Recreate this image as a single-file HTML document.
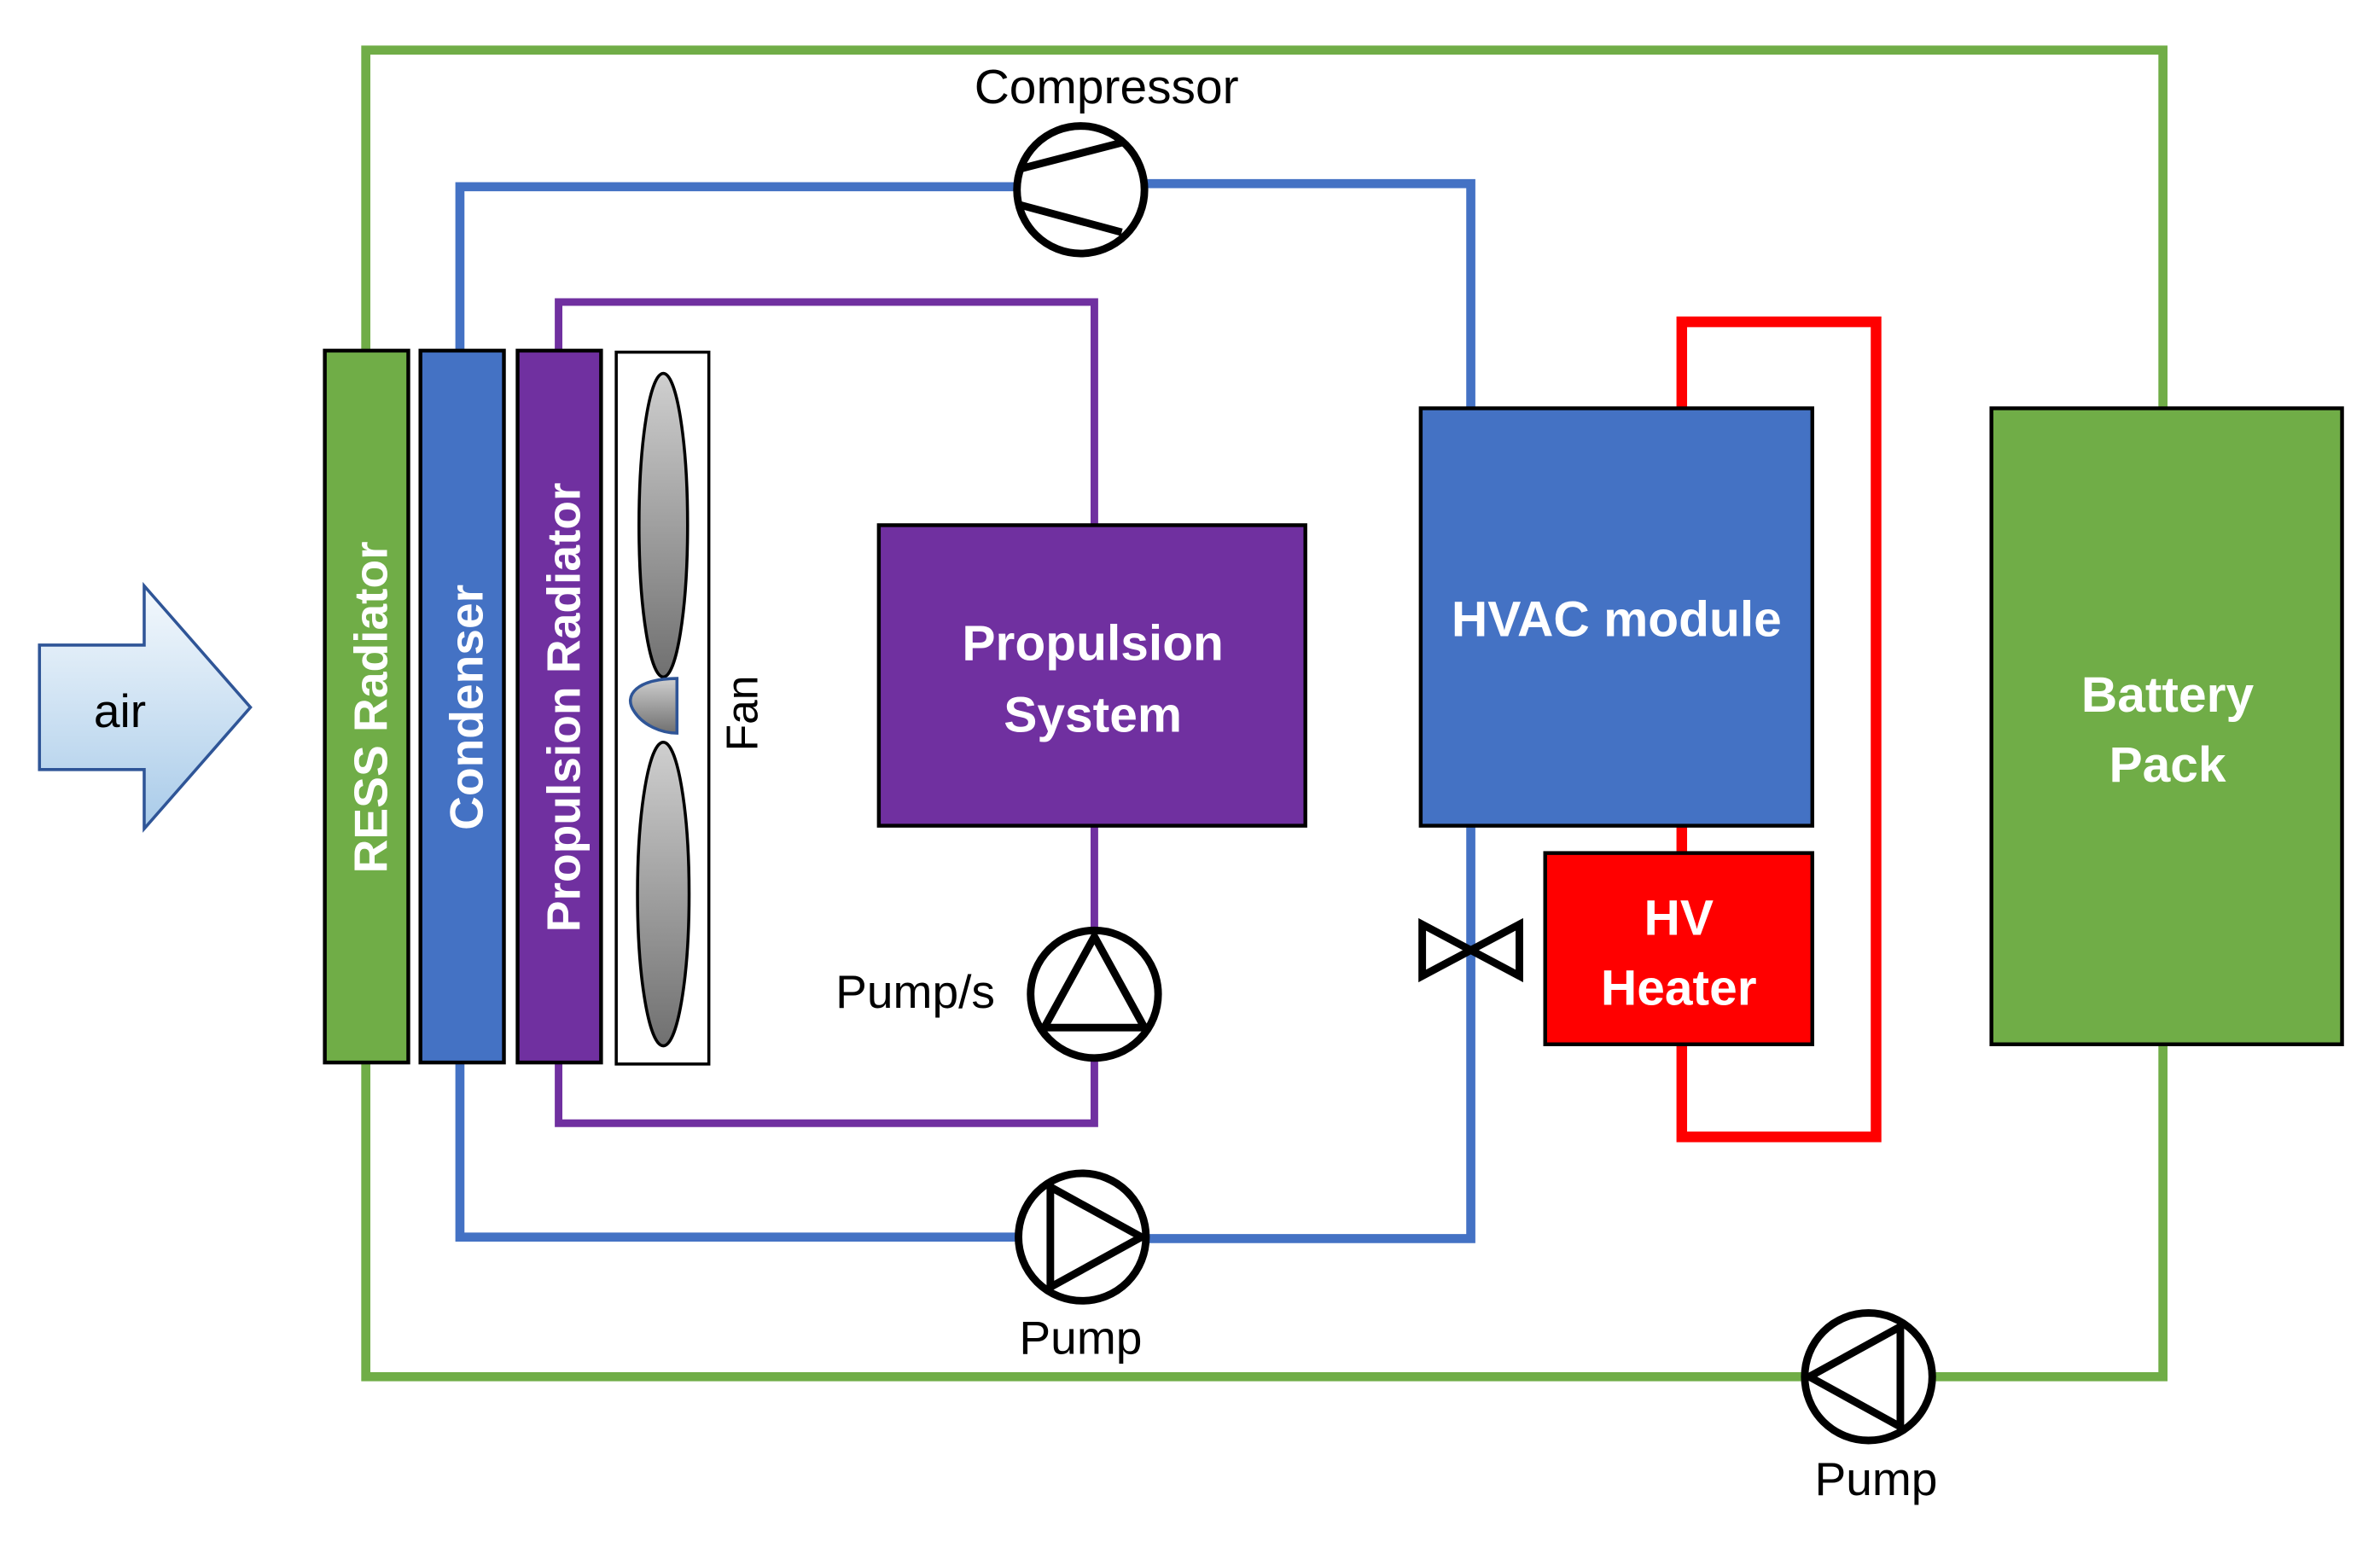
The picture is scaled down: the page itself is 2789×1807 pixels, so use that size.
<!DOCTYPE html>
<html><head><style>html,body{margin:0;padding:0;background:#fff}svg{display:block}</style></head>
<body>
<svg width="2789" height="1807" viewBox="0 0 1568 1015.9" preserveAspectRatio="none" xmlns="http://www.w3.org/2000/svg" font-family="'Liberation Sans', sans-serif">
<defs>
<linearGradient id="air" x1="0" y1="0" x2="0" y2="1"><stop offset="0" stop-color="#f4f9fd"/><stop offset="1" stop-color="#a9cbe9"/></linearGradient>
<linearGradient id="blade" x1="0" y1="0" x2="0" y2="1"><stop offset="0" stop-color="#cfcfcf"/><stop offset="1" stop-color="#707070"/></linearGradient>
</defs>
<g fill="none" stroke-linejoin="miter">
<path d="M241,232 V33 H1425 V268 M1425,688 V907 H241 V700" stroke="#70AD47" stroke-width="6"/>
<path d="M303,232 V123 H713 M713,121 H969 V268 M969,544 V816 H713 M713,815 H303 V700" stroke="#4472C4" stroke-width="6"/>
<path d="M368,232 V199 H721 V346 M721,544 V740 H368 V700" stroke="#7030A0" stroke-width="5"/>
<path d="M1108,268 V212 H1236 V749 H1108 V688 M1108,544 V562" stroke="#FF0000" stroke-width="7"/>
</g>
<polygon points="26,425 95,425 95,386 165,466 95,546 95,507 26,507" fill="url(#air)" stroke="#2F5597" stroke-width="2"/>
<text x="79" y="479" font-size="31" text-anchor="middle" fill="#000">air</text>
<rect x="214" y="231" width="55" height="469" fill="#70AD47" stroke="#000" stroke-width="2.5"/>
<rect x="277" y="231" width="55" height="469" fill="#4472C4" stroke="#000" stroke-width="2.5"/>
<rect x="341" y="231" width="55" height="469" fill="#7030A0" stroke="#000" stroke-width="2.5"/>
<rect x="406" y="232" width="61" height="469" fill="#fff" stroke="#000" stroke-width="2"/>
<text transform="translate(255,466) rotate(-90)" font-size="31" font-weight="bold" fill="#fff" text-anchor="middle">RESS Radiator</text>
<text transform="translate(318,466) rotate(-90)" font-size="31" font-weight="bold" fill="#fff" text-anchor="middle">Condenser</text>
<text transform="translate(382,466) rotate(-90)" font-size="31" font-weight="bold" fill="#fff" text-anchor="middle">Propulsion Radiator</text>
<ellipse cx="437" cy="346" rx="16" ry="100" fill="url(#blade)" stroke="#000" stroke-width="2"/>
<ellipse cx="437" cy="589" rx="17" ry="100" fill="url(#blade)" stroke="#000" stroke-width="2"/>
<path d="M446,447 C420,447 410,458 418,469 C424,478 436,483 446,483 Z" fill="url(#blade)" stroke="#2F5597" stroke-width="2"/>
<text transform="translate(499,470) rotate(-90)" font-size="29" fill="#000" text-anchor="middle">Fan</text>
<rect x="579" y="346" width="281" height="198" fill="#7030A0" stroke="#000" stroke-width="2.5"/>
<text x="720" y="435" font-size="33" font-weight="bold" fill="#fff" text-anchor="middle">Propulsion</text>
<text x="720" y="482" font-size="33" font-weight="bold" fill="#fff" text-anchor="middle">System</text>
<rect x="936" y="269" width="258" height="275" fill="#4472C4" stroke="#000" stroke-width="2.5"/>
<text x="1065" y="419" font-size="33" font-weight="bold" fill="#fff" text-anchor="middle">HVAC module</text>
<rect x="1018" y="562" width="176" height="126" fill="#FF0000" stroke="#000" stroke-width="2.5"/>
<text x="1106" y="616" font-size="33" font-weight="bold" fill="#fff" text-anchor="middle">HV</text>
<text x="1106" y="662" font-size="33" font-weight="bold" fill="#fff" text-anchor="middle">Heater</text>
<rect x="1312" y="269" width="231" height="419" fill="#70AD47" stroke="#000" stroke-width="2.5"/>
<text x="1428" y="469" font-size="33" font-weight="bold" fill="#fff" text-anchor="middle">Battery</text>
<text x="1428" y="515" font-size="33" font-weight="bold" fill="#fff" text-anchor="middle">Pack</text>
<circle cx="712" cy="125" r="42" fill="#fff" stroke="#000" stroke-width="5"/>
<path d="M673,111 L739,94 M672,135 L739,153" stroke="#000" stroke-width="5"/>
<text x="729" y="68" font-size="32" fill="#000" text-anchor="middle">Compressor</text>
<circle cx="721" cy="655" r="42" fill="#fff" stroke="#000" stroke-width="5"/>
<polygon points="721,617 688,677 754,677" fill="none" stroke="#000" stroke-width="5"/>
<text x="603" y="664" font-size="31" fill="#000" text-anchor="middle">Pump/s</text>
<circle cx="713" cy="815" r="42" fill="#fff" stroke="#000" stroke-width="5"/>
<polygon points="752,815 692,782 692,848" fill="none" stroke="#000" stroke-width="5"/>
<text x="712" y="892" font-size="31" fill="#000" text-anchor="middle">Pump</text>
<circle cx="1231" cy="907" r="42" fill="#fff" stroke="#000" stroke-width="5"/>
<polygon points="1192,907 1252,874 1252,940" fill="none" stroke="#000" stroke-width="5"/>
<text x="1236" y="985" font-size="31" fill="#000" text-anchor="middle">Pump</text>
<polygon points="937,609 1001,643 1001,609 937,643" fill="none" stroke="#000" stroke-width="5"/>
</svg>
</body></html>
